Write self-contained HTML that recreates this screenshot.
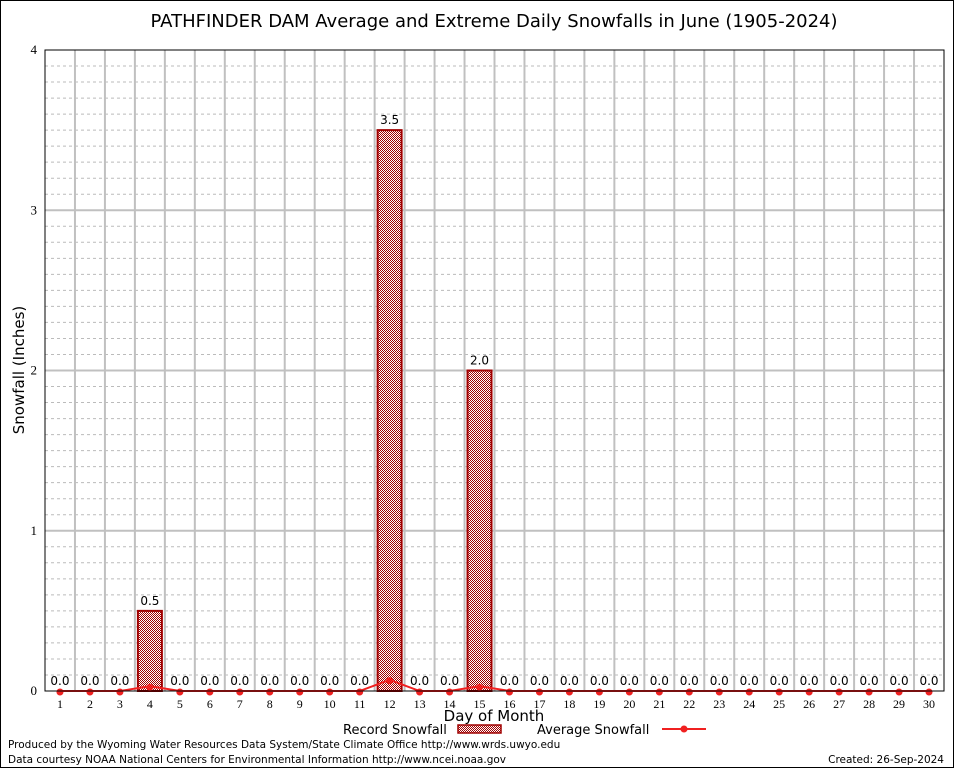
<!DOCTYPE html>
<html><head><meta charset="utf-8"><style>
body{margin:0;background:#fff}
svg{display:block;font-family:"DejaVu Sans","Liberation Sans",sans-serif}
</style></head><body>
<svg id="chart" width="954" height="768" viewBox="0 0 954 768">
<defs><pattern id="chk" width="2" height="2" patternUnits="userSpaceOnUse"><rect width="2" height="2" fill="#fff"/><rect width="1" height="1" fill="#a00000"/><rect x="1" y="1" width="1" height="1" fill="#a00000"/></pattern></defs>
<rect x="0.5" y="0.5" width="953" height="767" fill="#fff" stroke="#000"/>
<text x="494" y="27" font-size="18" text-anchor="middle">PATHFINDER DAM Average and Extreme Daily Snowfalls in June (1905-2024)</text>
<g id="grid"></g>
<g id="bars"></g>
<g id="avg"></g>
<rect x="45" y="50" width="899" height="641" fill="none" stroke="#000"/>
<g id="axes"></g>
<text x="24" y="370" font-size="15" text-anchor="middle" transform="rotate(-90 24 370)">Snowfall (Inches)</text>
<text x="494" y="721" font-size="15" text-anchor="middle">Day of Month</text>
<g>
<text x="343" y="734" font-size="13">Record Snowfall</text>
<rect x="458" y="725" width="43" height="8" fill="url(#chk)" stroke="#a00000" stroke-width="1.5"/>
<text x="537" y="734" font-size="13">Average Snowfall</text>
<line x1="662" y1="729" x2="706" y2="729" stroke="#f02020" stroke-width="2"/>
<circle cx="684" cy="729" r="3.5" fill="#f02020"/>
</g>
<text x="8" y="748" font-size="10.5">Produced by the Wyoming Water Resources Data System/State Climate Office http://www.wrds.uwyo.edu</text>
<text x="8" y="763" font-size="10.5">Data courtesy NOAA National Centers for Environmental Information http://www.ncei.noaa.gov</text>
<text x="944" y="763" font-size="10.5" text-anchor="end">Created:  26-Sep-2024</text>
</svg>
<script>
const days=[1,2,3,4,5,6,7,8,9,10,11,12,13,14,15,16,17,18,19,20,21,22,23,24,25,26,27,28,29,30];
const recordSnow=[0,0,0,0.5,0,0,0,0,0,0,0,3.5,0,0,2.0,0,0,0,0,0,0,0,0,0,0,0,0,0,0,0];
const avgSnow=[0,0,0,0.03,0,0,0,0,0,0,0,0.07,0,0,0.03,0,0,0,0,0,0,0,0,0,0,0,0,0,0,0];
const yTicks=[0,1,2,3,4];
const NS="http://www.w3.org/2000/svg";
const L=45,R=944,T=50,B=691,yMax=4;
const bw=(R-L)/days.length;
const x=i=>L+(i+0.5)*bw;
const y=v=>B-(v/yMax)*(B-T);
function mk(tag,attrs,parent){const e=document.createElementNS(NS,tag);for(const k in attrs)e.setAttribute(k,attrs[k]);parent.appendChild(e);return e;}
const grid=document.getElementById('grid'),bars=document.getElementById('bars'),avg=document.getElementById('avg'),axes=document.getElementById('axes');
for(let k=1;k<40;k++){if(k%10===0)continue;const yy=y(k/10);
const l=mk('line',{x1:L,x2:R,y1:yy,y2:yy,stroke:'#bbb','stroke-dasharray':'3,3'},grid);

}
for(let i=1;i<days.length;i++){const xx=L+i*bw;
const l=mk('line',{x1:xx,x2:xx,y1:T,y2:B,stroke:'#c0c0c0','stroke-width':2},grid);

}
yTicks.forEach(t=>{const yy=y(t);
if(t>0&&t<yMax){const l=mk('line',{x1:L,x2:R,y1:yy,y2:yy,stroke:'#c0c0c0','stroke-width':2},grid);

}
const tx=mk('text',{x:L-8,y:yy+4,'font-size':13,'text-anchor':'end','font-family':'Liberation Serif,serif'},axes);tx.textContent=t;

});
days.forEach((d,i)=>{const v=recordSnow[i];
if(v>0){const r=mk('rect',{x:x(i)-12,y:y(v),width:24,height:B-y(v),fill:'url(#chk)',stroke:'#a00000','stroke-width':2},bars);

}
const lb=mk('text',{x:x(i),y:y(v)-6,'font-size':12,'text-anchor':'middle'},bars);lb.textContent=v.toFixed(1);


const tl=mk('text',{x:x(i),y:B+17,'font-size':12,'text-anchor':'middle','font-family':'Liberation Serif,serif'},axes);tl.textContent=d;

});
const pl=mk('polyline',{points:days.map((d,i)=>x(i)+','+y(avgSnow[i])).join(' '),fill:'none',stroke:'#f02020','stroke-width':2},avg);


days.forEach((d,i)=>{const c=mk('circle',{cx:x(i),cy:y(avgSnow[i])+1,r:3.5,fill:'#f02020'},avg);

});
</script>
</body></html>
